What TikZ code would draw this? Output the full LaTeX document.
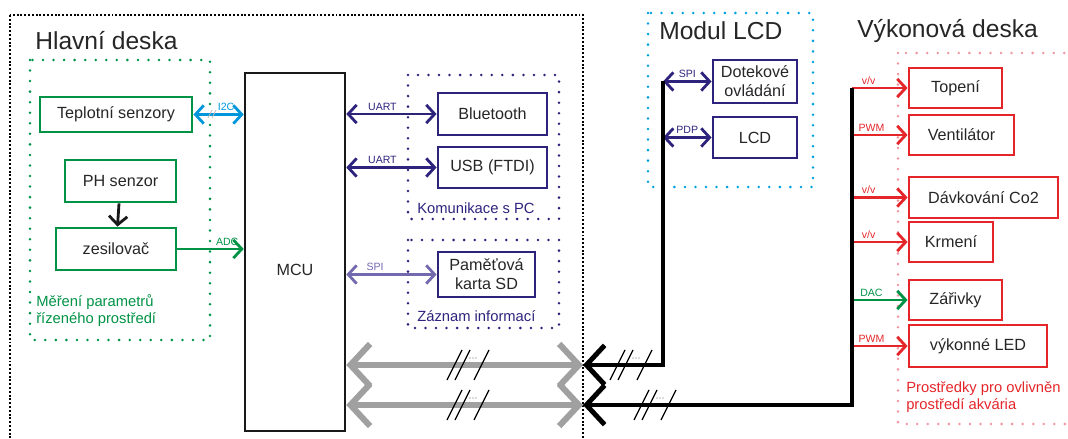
\documentclass[tikz,border=0pt]{standalone}
\usepackage{fontspec}
\setmainfont{Liberation Sans}
\usetikzlibrary{arrows.meta, positioning}

\definecolor{grn}{RGB}{0,146,69}
\definecolor{iblue}{RGB}{0,150,220}
\definecolor{lblue}{RGB}{0,160,225}
\definecolor{navy}{RGB}{45,35,125}
\definecolor{lilac}{RGB}{115,105,175}
\definecolor{pred}{RGB}{228,38,42}
\definecolor{pink}{RGB}{240,150,160}
\definecolor{busgray}{RGB}{160,160,160}

% slashes marking a multi-wire bus
\newcommand{\busticks}[2]{%
  \foreach \dx in {0,8,27}
    \draw[line width=0.9pt, black] (#1+\dx-7,#2+15) -- ++(15,-30);
  \foreach \k in {0,1,2}
    \fill[black!60] (#1+16+\k*3,#2-7) circle (0.45pt);}

\begin{document}
\begin{tikzpicture}[x=0.025cm, y=-0.025cm, font=\fontsize{11.5}{13.5}\selectfont,
    box/.style={draw=#1, line width=2pt, text=black!85, align=center, inner sep=2pt},
    grpbox/.style={line width=2pt, line cap=round, dash pattern=on 0pt off 7.5pt},
    title/.style={anchor=west, inner sep=0pt, text=black!85, font=\fontsize{17.5}{20}\selectfont},
    caption/.style={anchor=west, inner sep=0pt, align=left, font=\fontsize{10.5}{12}\selectfont},
    tag/.style={font=\fontsize{7.5}{8}\selectfont, inner sep=1.5pt},
    lnk/.style={line width=2pt, {Straight Barb[length=6pt,width=13pt]}-{Straight Barb[length=6pt,width=13pt]}},
    feed/.style={line width=2pt, -{Straight Barb[length=6pt,width=13pt]}},
    gbus/.style={busgray, line width=4.3pt, {Straight Barb[length=14pt,width=30pt]}-{Straight Barb[length=14pt,width=30pt]}},
    kbus/.style={black, line width=3.5pt, {Straight Barb[length=13pt,width=28pt]}-}]

    \useasboundingbox (0,0) rectangle (1068,439);

    % frames
    \draw[black, line width=1.7pt, dash pattern=on 1.4pt off 1.3pt] (10,15) rectangle (583,460);
    \draw[grpbox, grn] (30,60) rectangle (210,340);
    \draw[grpbox, navy] (408,75) rectangle (559,219);
    \draw[grpbox, navy] (408,240) rectangle (559,328);
    \draw[grpbox, lblue] (648,13) rectangle (813,187);
    \draw[grpbox, pink] (898,53) rectangle (1090,424);

    \node[title] at (35,41) {Hlavní deska};
    \node[title] at (659,31) {Modul LCD};
    \node[title] at (857,31) {Výkonová deska};

    % main board
    \node[box=grn, minimum width=3.8cm, minimum height=0.875cm] (teplo) at (116,114.5) {Teplotní senzory};
    \node[box=grn, minimum width=2.775cm, minimum height=1.05cm] (ph) at (120.5,181) {PH senzor};
    \node[box=grn, minimum width=3cm, minimum height=1.05cm] (zes) at (116,249) {zesilovač};
    \node[caption, grn] at (36,310.5) {Měření parametrů\\řízeného prostředí};

    \node[box=black!90, line width=1.8pt, minimum width=2.5cm, minimum height=8.95cm] (mcu) at (295,252) {\raisebox{-34pt}{MCU}};

    \node[box=navy, minimum width=2.725cm, minimum height=1.05cm] (bt) at (492.5,114) {Bluetooth};
    \node[box=navy, minimum width=2.725cm, minimum height=1.025cm] (usb) at (492.5,167.5) {USB (FTDI)};
    \node[caption, navy] at (417,208) {Komunikace s PC};
    \node[box=navy, minimum width=2.425cm, minimum height=1.125cm] (sd) at (486.5,274.5) {Paměťová\\karta SD};
    \node[caption, navy] at (417,316) {Záznam informací};

    \draw[feed, black!90] (ph) -- (zes);
    \draw[lnk, iblue] (teplo.east) -- (teplo.east -| mcu.west) node[tag, pos=0.65, above] {I2C};
    \draw[busgray!70, line width=0.5pt] (208,118) -- ++(4,-8) (212,118) -- ++(4,-8);
    \draw[feed, grn] (zes.east) -- (zes.east -| mcu.west) node[tag, pos=0.75, above] {ADC};
    \draw[lnk, navy] (bt.west -| mcu.east) -- (bt.west) node[tag, pos=0.4, above] {UART};
    \draw[lnk, navy] (usb.west -| mcu.east) -- (usb.west) node[tag, pos=0.4, above] {UART};
    \draw[lnk, lilac] (sd.west -| mcu.east) -- (sd.west) node[tag, pos=0.32, above] {SPI};

    % LCD module
    \node[box=navy, minimum width=2.1cm, minimum height=1.075cm] (touch) at (755,81.5) {Dotekové\\ovládání};
    \node[box=navy, minimum width=2.1cm, minimum height=1.025cm] (lcd) at (755,137.5) {LCD};
    \coordinate (lbus) at (663,81.5);
    \draw[lnk, navy] (lbus) -- (touch.west) node[tag, midway, above] {SPI};
    \draw[lnk, navy] (lbus |- lcd.west) -- (lcd.west) node[tag, midway, above] {PDP};

    % power board
    \node[box=pred, minimum width=2.325cm, minimum height=1cm] (top) at (955.5,88) {Topení};
    \node[box=pred, minimum width=2.625cm, minimum height=1cm] (vent) at (961.5,135) {Ventilátor};
    \node[box=pred, minimum width=3.725cm, minimum height=1.025cm] (co2) at (983.5,197.5) {Dávkování Co2};
    \node[box=pred, minimum width=2.1cm, minimum height=1cm] (krm) at (951,242) {Krmení};
    \node[box=pred, minimum width=2.325cm, minimum height=1cm] (zar) at (955.5,300) {Zářivky};
    \node[box=pred, minimum width=3.45cm, minimum height=1.05cm] (led) at (978,346) {výkonné LED};
    \node[caption, pred] at (906,397) {Prostředky pro ovlivněn\\prostředí akvária};

    \coordinate (pbus) at (852,88);
    \draw[feed, pred] (pbus) -- (top.west) node[tag, pos=0.3, above] {v/v};
    \draw[feed, pred] (pbus |- vent.west) -- (vent.west) node[tag, pos=0.35, above] {PWM};
    \draw[feed, pred] (pbus |- co2.west) -- (co2.west) node[tag, pos=0.3, above] {v/v};
    \draw[feed, pred] (pbus |- krm.west) -- (krm.west) node[tag, pos=0.3, above] {v/v};
    \draw[feed, grn] (pbus |- zar.west) -- (zar.west) node[tag, pos=0.35, above] {DAC};
    \draw[feed, pred] (pbus |- led.west) -- (led.west) node[tag, pos=0.35, above] {PWM};

    % buses between the boards
    \coordinate (g1) at (583,365);
    \coordinate (g2) at (583,405);
    \draw[gbus] (g1 -| mcu.east) -- (g1);
    \draw[gbus] (g2 -| mcu.east) -- (g2);
    \draw[kbus] (g1) -- (lbus |- g1) -- (lbus);
    \draw[kbus] (g2) -- (pbus |- g2) -- (pbus);
    \busticks{454}{365}
    \busticks{454}{405}
    \busticks{617}{365}
    \busticks{641}{405}
\end{tikzpicture}
\end{document}
